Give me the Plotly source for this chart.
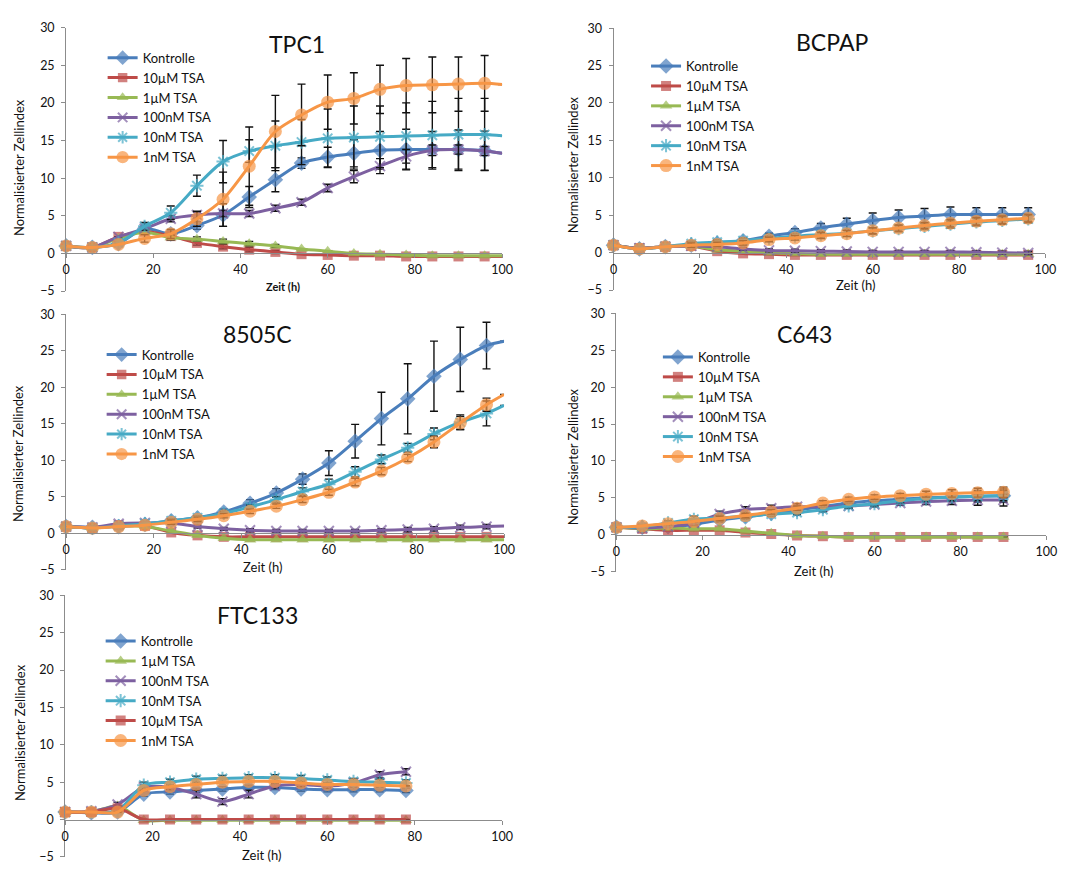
import plotly.graph_objects as go

W, H = 1091, 873

# ---------------- DATA ----------------
series_names = ["Kontrolle", "10µM TSA", "1µM TSA", "100nM TSA", "10nM TSA", "1nM TSA"]
x_ticks = [0, 20, 40, 60, 80, 100]
y_ticks = [-5, 0, 5, 10, 15, 20, 25, 30]

# TPC1 (last point at 100 h is the line end without marker)
t_tpc1 = [0, 6, 12, 18, 24, 30, 36, 42, 48, 54, 60, 66, 72, 78, 84, 90, 96, 100]
tpc1_kontrolle = [1.0, 0.8, 1.3, 3.3, 2.6, 3.7, 5.1, 7.5, 9.8, 12.0, 12.8, 13.3, 13.7, 13.8, 13.8, 13.8, 13.65, 13.3]
tpc1_10uM = [1.0, 0.8, 2.2, 2.9, 2.3, 1.4, 0.9, 0.5, 0.2, -0.1, -0.2, -0.3, -0.3, -0.4, -0.4, -0.4, -0.4, -0.4]
tpc1_1uM = [1.0, 0.8, 2.0, 2.8, 2.1, 1.9, 1.6, 1.3, 1.0, 0.6, 0.3, 0.0, -0.1, -0.2, -0.3, -0.3, -0.3, -0.3]
tpc1_100nM = [1.0, 0.8, 2.2, 3.3, 4.6, 5.1, 5.3, 5.3, 6.0, 6.8, 8.7, 10.2, 11.6, 12.9, 13.7, 13.8, 13.6, 13.3]
tpc1_10nM = [1.0, 0.8, 1.4, 3.6, 5.4, 9.0, 12.2, 13.6, 14.3, 14.8, 15.3, 15.4, 15.5, 15.6, 15.7, 15.8, 15.8, 15.65]
tpc1_1nM = [1.0, 0.8, 1.2, 2.0, 2.6, 4.6, 7.2, 11.6, 16.2, 18.4, 20.1, 20.6, 21.8, 22.3, 22.4, 22.5, 22.6, 22.45]
tpc1_kontrolle_err = [None, None, None, 0.3, 0.4, 0.5, 1.5, 1.4, 1.6, 0.7, 1.3, 1.8, 2.5, 2.7, 2.4, 2.6, 2.6, None]
tpc1_10uM_err = [None, None, None, None, 0.3, 0.3, 0.3, 0.3, 0.2, None, None, None, None, None, None, None, None, None]
tpc1_1uM_err = [None, None, None, None, 0.3, 0.3, 0.3, 0.3, 0.2, None, None, None, None, None, None, None, None, None]
tpc1_100nM_err = [None, None, None, None, 0.4, 0.4, 0.4, 0.4, 0.4, 0.4, 0.5, 0.8, 1.0, 0.9, 0.7, 0.6, 0.6, None]
tpc1_10nM_err = [None, None, None, 0.5, 0.9, 1.4, 2.8, 1.5, 3.3, 3.0, 3.9, 4.2, 4.1, 4.4, 4.5, 4.8, 4.8, None]
tpc1_1nM_err = [None, None, None, 0.5, 0.6, 1.0, 3.6, 5.2, 4.8, 4.1, 3.6, 3.4, 3.2, 3.6, 3.7, 3.6, 3.7, None]

# BCPAP
t_bcpap = [0, 6, 12, 18, 24, 30, 36, 42, 48, 54, 60, 66, 72, 78, 84, 90, 96]
bcpap_kontrolle = [1.0, 0.5, 0.8, 1.0, 1.3, 1.6, 2.2, 2.7, 3.3, 3.8, 4.3, 4.7, 4.9, 5.1, 5.1, 5.1, 5.1]
bcpap_10uM = [1.0, 0.6, 0.8, 0.9, 0.2, -0.1, -0.2, -0.3, -0.3, -0.3, -0.3, -0.3, -0.3, -0.3, -0.3, -0.3, -0.3]
bcpap_1uM = [1.0, 0.6, 0.8, 0.9, 0.4, 0.2, 0.0, -0.1, -0.2, -0.2, -0.2, -0.2, -0.2, -0.2, -0.2, -0.2, -0.2]
bcpap_100nM = [1.0, 0.6, 0.8, 0.9, 0.8, 0.5, 0.3, 0.25, 0.2, 0.15, 0.1, 0.1, 0.1, 0.1, 0.05, 0.0, -0.05]
bcpap_10nM = [1.0, 0.5, 0.8, 1.2, 1.4, 1.6, 1.9, 2.2, 2.4, 2.6, 2.9, 3.2, 3.5, 3.8, 4.1, 4.3, 4.5]
bcpap_1nM = [1.0, 0.5, 0.8, 1.0, 1.1, 1.3, 1.75, 1.97, 2.27, 2.54, 2.93, 3.28, 3.63, 3.94, 4.2, 4.4, 4.6]
bcpap_kontrolle_err = [None, None, None, 0.3, 0.4, 0.4, 0.4, 0.5, 0.6, 0.8, 1.0, 1.0, 1.0, 1.0, 0.9, 0.9, 0.9]
bcpap_10uM_err = [None] * 17
bcpap_1uM_err = [None] * 17
bcpap_100nM_err = [None, None, None, None, 0.2, 0.2, 0.2, 0.2, 0.2, 0.2, 0.2, 0.2, 0.2, 0.2, 0.2, 0.2, 0.2]
bcpap_10nM_err = [None, None, None, 0.3, 0.3, 0.3, 0.3, 0.3, 0.4, 0.4, 0.4, 0.4, 0.4, 0.5, 0.5, 0.5, 0.5]
bcpap_1nM_err = [None, None, None, 0.3, 0.3, 0.3, 0.3, 0.3, 0.4, 0.4, 0.4, 0.4, 0.4, 0.5, 0.5, 0.5, 0.5]

# 8505C (last point at 100 h is the line end without marker)
t_8505c = [0, 6, 12, 18, 24, 30, 36, 42, 48, 54, 60, 66, 72, 78, 84, 90, 96, 100]
c8505_kontrolle = [0.9, 0.8, 0.9, 1.2, 1.7, 2.1, 2.9, 4.1, 5.5, 7.4, 9.6, 12.6, 15.7, 18.4, 21.5, 23.8, 25.7, 26.3]
c8505_10uM = [0.9, 0.7, 1.1, 1.0, 0.1, -0.3, -0.5, -0.5, -0.5, -0.5, -0.5, -0.5, -0.5, -0.5, -0.5, -0.5, -0.5, -0.5]
c8505_1uM = [0.9, 0.7, 1.0, 0.9, 0.3, -0.3, -0.7, -0.9, -0.9, -0.9, -0.9, -0.9, -0.9, -0.9, -0.9, -0.9, -0.9, -0.9]
c8505_100nM = [0.9, 0.8, 1.3, 1.4, 1.4, 0.9, 0.6, 0.4, 0.3, 0.3, 0.3, 0.3, 0.4, 0.5, 0.6, 0.8, 0.9, 1.0]
c8505_10nM = [0.9, 0.7, 1.0, 1.3, 1.7, 2.1, 2.7, 3.6, 4.6, 5.7, 6.7, 8.4, 10.1, 11.7, 13.6, 15.2, 16.4, 17.5]
c8505_1nM = [0.9, 0.7, 0.9, 1.1, 1.5, 1.9, 2.4, 3.0, 3.7, 4.6, 5.6, 7.0, 8.5, 10.3, 12.5, 15.1, 17.6, 19.0]
c8505_kontrolle_err = [None, None, None, None, 0.3, 0.3, 0.4, 0.5, 0.6, 0.7, 1.7, 2.3, 3.6, 4.8, 4.8, 4.4, 3.2, None]
c8505_10uM_err = [None] * 18
c8505_1uM_err = [None] * 18
c8505_100nM_err = [None, None, None, None, 0.2, 0.2, 0.2, 0.2, 0.2, 0.2, 0.2, 0.2, 0.2, 0.3, 0.3, 0.3, 0.3, None]
c8505_10nM_err = [None, None, None, None, 0.3, 0.3, 0.3, 0.3, 0.4, 0.5, 0.7, 0.7, 0.6, 0.6, 0.8, 1.0, 1.7, None]
c8505_1nM_err = [None, None, None, None, 0.3, 0.3, 0.3, 0.3, 0.3, 0.4, 0.4, 0.5, 0.5, 0.5, 0.8, 0.9, 0.9, None]

# C643
t_c643 = [0, 6, 12, 18, 24, 30, 36, 42, 48, 54, 60, 66, 72, 78, 84, 90]
c643_kontrolle = [1.0, 1.0, 1.1, 1.4, 2.0, 2.4, 2.9, 3.4, 3.8, 4.3, 4.6, 4.8, 5.0, 5.1, 5.2, 5.3]
c643_10uM = [1.0, 0.8, 0.6, 0.6, 0.6, 0.3, 0.1, -0.1, -0.2, -0.3, -0.3, -0.3, -0.3, -0.3, -0.3, -0.3]
c643_1uM = [1.0, 0.8, 0.9, 0.8, 0.8, 0.5, 0.2, -0.1, -0.2, -0.3, -0.3, -0.3, -0.3, -0.3, -0.3, -0.3]
c643_100nM = [1.0, 0.9, 1.1, 1.6, 2.8, 3.4, 3.6, 3.8, 3.8, 3.9, 4.1, 4.3, 4.5, 4.6, 4.7, 4.7]
c643_10nM = [1.0, 1.1, 1.6, 2.1, 2.3, 2.5, 2.8, 3.0, 3.4, 3.9, 4.2, 4.6, 4.9, 5.1, 5.2, 5.3]
c643_1nM = [1.0, 1.2, 1.5, 1.8, 2.2, 2.6, 3.1, 3.6, 4.3, 4.8, 5.1, 5.3, 5.5, 5.6, 5.7, 5.75]
c643_kontrolle_err = [None, None, None, 0.3, 0.3, 0.3, 0.3, 0.3, 0.3, 0.4, 0.4, 0.4, 0.5, 0.6, 0.8, 0.9]
c643_10uM_err = [None] * 16
c643_1uM_err = [None] * 16
c643_100nM_err = [None, None, None, 0.3, 0.4, 0.4, 0.4, 0.4, 0.3, 0.3, 0.3, 0.3, 0.4, 0.5, 0.7, 0.8]
c643_10nM_err = [None, None, 0.3, 0.4, 0.3, 0.3, 0.3, 0.3, 0.3, 0.3, 0.3, 0.3, 0.4, 0.5, 0.6, 0.7]
c643_1nM_err = [None, None, None, None, 0.3, 0.3, 0.3, 0.3, 0.3, 0.3, 0.3, 0.3, 0.4, 0.5, 0.6, 0.7]

# FTC133 (legend order differs)
ftc_names = ["Kontrolle", "1µM TSA", "100nM TSA", "10nM TSA", "10µM TSA", "1nM TSA"]
t_ftc133 = [0, 6, 12, 18, 24, 30, 36, 42, 48, 54, 60, 66, 72, 78]
ftc_kontrolle = [1.0, 0.9, 1.0, 3.4, 3.7, 3.9, 4.1, 4.3, 4.3, 4.1, 4.0, 4.0, 4.0, 3.9]
ftc_1uM = [1.0, 1.0, 1.8, -0.1, -0.1, -0.1, -0.1, -0.1, -0.1, -0.1, -0.1, -0.1, -0.1, -0.1]
ftc_100nM = [1.0, 1.1, 2.0, 4.3, 4.3, 3.4, 2.4, 3.4, 4.5, 4.7, 4.5, 4.9, 6.0, 6.4]
ftc_10nM = [1.0, 1.0, 1.2, 4.6, 5.0, 5.4, 5.5, 5.6, 5.6, 5.5, 5.3, 5.1, 5.0, 4.9]
ftc_10uM = [1.0, 1.0, 1.5, 0.0, 0.0, 0.0, 0.0, 0.0, 0.0, 0.0, 0.0, 0.0, 0.0, 0.0]
ftc_1nM = [1.0, 1.0, 1.0, 3.9, 4.4, 4.7, 5.0, 5.1, 5.1, 4.9, 4.7, 4.7, 4.6, 4.5]
ftc_kontrolle_err = [None, None, None, 0.3, 0.3, 0.3, 0.3, 0.3, 0.3, 0.3, 0.3, 0.3, 0.3, 0.3]
ftc_1uM_err = [None] * 14
ftc_100nM_err = [None, None, 0.3, 0.3, 0.3, 0.5, 0.4, 0.5, 0.3, 0.3, 0.3, 0.3, 0.4, 0.4]
ftc_10nM_err = [None, None, None, 0.4, 0.4, 0.4, 0.4, 0.4, 0.4, 0.4, 0.4, 0.4, 0.4, 0.4]
ftc_10uM_err = [None] * 14
ftc_1nM_err = [None] * 14

# ---------------- STYLE ----------------
STYLE = {
    "Kontrolle": dict(color="#4A7EBB", symbol="diamond", size=12),
    "10µM TSA": dict(color="#BE4B48", symbol="square", size=10),
    "1µM TSA": dict(color="#98B954", symbol="triangle-up", size=11),
    "100nM TSA": dict(color="#7D60A0", symbol="x-thin", size=10),
    "10nM TSA": dict(color="#46AAC5", symbol="asterisk", size=11),
    "1nM TSA": dict(color="#F79646", symbol="circle", size=13),
}
AX = "#8c8c8c"
FONT = "Lato"
TXT = "#111111"


def fx(px):
    return px / W


def fy(py):
    return 1 - py / H


# panel geometry in pixels: (x0, x1, ytop, ybottom)
panels = [
    dict(title="TPC1", t=t_tpc1, names=series_names,
         ys=[tpc1_kontrolle, tpc1_10uM, tpc1_1uM, tpc1_100nM, tpc1_10nM, tpc1_1nM],
         es=[tpc1_kontrolle_err, tpc1_10uM_err, tpc1_1uM_err, tpc1_100nM_err, tpc1_10nM_err, tpc1_1nM_err],
         geo=(63, 505, 20, 288), tail=True,
         title_pos=(297, 37), xt_pos=(283, 283), xt_bold=True, yt_pos=(15, 162),
         leg=(100, 101.5)),
    dict(title="BCPAP", t=t_bcpap, names=series_names,
         ys=[bcpap_kontrolle, bcpap_10uM, bcpap_1uM, bcpap_100nM, bcpap_10nM, bcpap_1nM],
         es=[bcpap_kontrolle_err, bcpap_10uM_err, bcpap_1uM_err, bcpap_100nM_err, bcpap_10nM_err, bcpap_1nM_err],
         geo=(618, 1056, 20.5, 287), tail=False,
         title_pos=(840, 35), xt_pos=(863, 282), xt_bold=False, yt_pos=(577, 160),
         leg=(651, 110)),
    dict(title="8505C", t=t_8505c, names=series_names,
         ys=[c8505_kontrolle, c8505_10uM, c8505_1uM, c8505_100nM, c8505_10nM, c8505_1nM],
         es=[c8505_kontrolle_err, c8505_10uM_err, c8505_1uM_err, c8505_100nM_err, c8505_10nM_err, c8505_1nM_err],
         geo=(63, 507, 311.5, 571.5), tail=True,
         title_pos=(257, 332), xt_pos=(262, 569), xt_bold=False, yt_pos=(14, 453),
         leg=(99, 403.5)),
    dict(title="C643", t=t_c643, names=series_names,
         ys=[c643_kontrolle, c643_10uM, c643_1uM, c643_100nM, c643_10nM, c643_1nM],
         es=[c643_kontrolle_err, c643_10uM_err, c643_1uM_err, c643_100nM_err, c643_10nM_err, c643_1nM_err],
         geo=(621, 1057, 310.7, 573.5), tail=False,
         title_pos=(812, 332), xt_pos=(821, 573), xt_bold=False, yt_pos=(577, 457),
         leg=(663, 406)),
    dict(title="FTC133", t=t_ftc133, names=ftc_names,
         ys=[ftc_kontrolle, ftc_1uM, ftc_100nM, ftc_10nM, ftc_10uM, ftc_1nM],
         es=[ftc_kontrolle_err, ftc_1uM_err, ftc_100nM_err, ftc_10nM_err, ftc_10uM_err, ftc_1nM_err],
         geo=(62, 505, 597.7, 863.7), tail=False,
         title_pos=(257, 618), xt_pos=(261, 862), xt_bold=False, yt_pos=(17, 737),
         leg=(98, 695)),
]

fig = go.Figure()
annotations = []
layout = dict(
    width=W, height=H, margin=dict(l=0, r=0, t=0, b=0),
    paper_bgcolor="white", plot_bgcolor="rgba(0,0,0,0)",
    font=dict(family=FONT, color=TXT),
)

for i, p in enumerate(panels):
    k = "" if i == 0 else str(i + 1)
    x0, x1, yt, yb = p["geo"]
    dom_y = [fy(yb), fy(yt)]
    pos_x_axis = dom_y[0] + (0 - (-5)) / 35 * (dom_y[1] - dom_y[0])
    layout["xaxis" + k] = dict(
        domain=[fx(x0), fx(x1)], range=[0, 100], tickvals=x_ticks,
        anchor="free", position=pos_x_axis,
        showline=True, linecolor=AX, linewidth=1, ticks="outside", ticklen=4,
        tickcolor=AX, showgrid=False, zeroline=False,
        tickfont=dict(size=12.5, color=TXT, family=FONT), ticklabelstandoff=1,
    )
    layout["yaxis" + k] = dict(
        domain=dom_y, range=[-5, 30], tickvals=y_ticks, anchor="x" + k,
        showline=True, linecolor=AX, linewidth=1, ticks="outside", ticklen=4,
        tickcolor=AX, showgrid=False, zeroline=False,
        tickfont=dict(size=12.5, color=TXT, family=FONT), ticklabelstandoff=4,
    )
    lk = "legend" + k
    lx, lyc = p["leg"]
    layout[lk] = dict(
        x=fx(lx), y=fy(lyc), xanchor="left", yanchor="middle",
        bgcolor="rgba(0,0,0,0)", borderwidth=0,
        font=dict(size=13, color=TXT, family=FONT), tracegroupgap=0,
    )
    n = len(p["t"])
    for name, yv, ev in zip(p["names"], p["ys"], p["es"]):
        st = STYLE[name]
        sizes = [st["size"]] * n
        if p["tail"]:
            sizes[-1] = 0
        marker = dict(symbol=st["symbol"], size=sizes, color=st["color"],
                      line=dict(width=0, color=st["color"]))
        if st["symbol"] in ("x-thin", "asterisk"):
            marker["line"] = dict(width=2, color=st["color"])
        fig.add_trace(go.Scatter(
            x=p["t"], y=yv, name=name, mode="lines+markers",
            line=dict(color=st["color"], width=3, shape="spline", smoothing=0.8),
            marker=marker,
            error_y=dict(type="data", array=ev, visible=True, color="#111111",
                         thickness=1.4, width=4),
            xaxis="x" + k, yaxis="y" + k, legend=lk, cliponaxis=False,
        ))
    # panel title
    tx, ty = p["title_pos"]
    annotations.append(dict(text=p["title"], x=fx(tx), y=fy(ty), xref="paper", yref="paper",
                            showarrow=False, xanchor="center", yanchor="middle",
                            font=dict(size=23, color=TXT, family=FONT)))
    # x axis title
    ax_, ay_ = p["xt_pos"]
    annotations.append(dict(text="<b>Zeit (h)</b>" if p["xt_bold"] else "Zeit (h)",
                            x=fx(ax_), y=fy(ay_), xref="paper", yref="paper",
                            showarrow=False, xanchor="center", yanchor="middle",
                            font=dict(size=11 if p["xt_bold"] else 13, color=TXT, family=FONT)))
    # y axis title
    bx, by = p["yt_pos"]
    annotations.append(dict(text="Normalisierter Zellindex", x=fx(bx), y=fy(by),
                            xref="paper", yref="paper", textangle=-90,
                            showarrow=False, xanchor="center", yanchor="middle",
                            font=dict(size=13, color=TXT, family=FONT)))

layout["annotations"] = annotations
fig.update_layout(**layout)
fig.write_html("out.html")
